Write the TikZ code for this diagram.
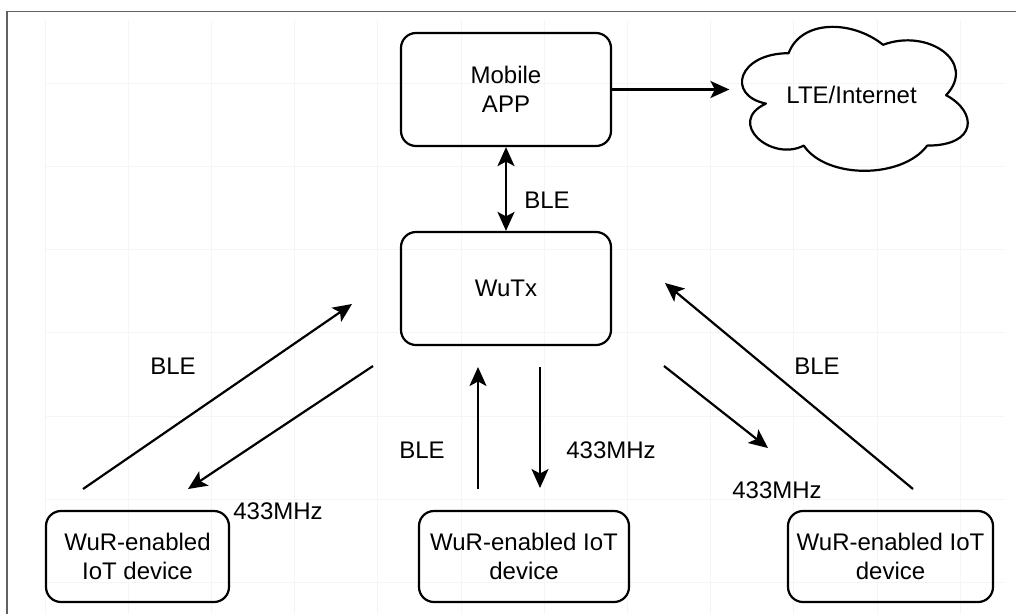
\documentclass[tikz,border=0pt]{standalone}
\usepackage{fontspec}
\setmainfont{Liberation Sans}
\usetikzlibrary{arrows.meta}
\begin{document}
\begin{tikzpicture}[x=1pt,y=-1pt,
  txt/.style={font=\fontsize{24}{29}\selectfont},
  box/.style={txt, draw, line width=2.2pt, rounded corners=15pt, inner sep=0pt, align=center},
  lbl/.style={txt, inner sep=0pt},
  tip/.tip={Stealth[length=19pt,width=17pt,inset=4.5pt]},
  link/.style={line width=2.2pt, -tip},
  dlink/.style={line width=2.2pt, tip-tip},
  gridline/.style={black!4, line width=0.8pt},
  frameline/.style={black!62, line width=1.4pt}
]
\useasboundingbox (0,0) rectangle (1016,614);
\fill[white] (0,0) rectangle (1016,614);

% background grid
\foreach \k in {0,...,11} {
  \draw[gridline] ({45+83.2*\k},20) -- ({45+83.2*\k},614);
}
\foreach \k in {1,...,7} {
  \draw[gridline] (45,{83.2*\k}) -- (1005,{83.2*\k});
}

% page frame
\draw[frameline] (1016,11.5) -- (7,11.5) -- (7,614);

% boxes
\node[box, minimum width=210pt, minimum height=113pt] (app) at (506,89.5) {Mobile\\APP};
\node[box, minimum width=210pt, minimum height=113pt] (wutx) at (506,288.5) {WuTx};
\node[box, minimum width=183pt, minimum height=91pt] (devl) at (137.5,556.5) {WuR-enabled\\IoT device};
\node[box, minimum width=210pt, minimum height=91pt] (devm) at (524,556.5) {WuR-enabled IoT\\device};
\node[box, minimum width=205pt, minimum height=91pt] (devr) at (890.5,556.5) {WuR-enabled IoT\\device};

% cloud
\node[txt, inner sep=0pt, minimum width=244pt, minimum height=168pt] (cloud) at (851.6,95.2) {LTE/Internet};
\begin{scope}[shift={(725.6,11.2)}, x=252pt, y=-168pt]
  \draw[line width=2.2pt, line join=round]
    (0.25,0.25) .. controls (0.05,0.25) and (0,0.5) .. (0.16,0.55)
    .. controls (0,0.66) and (0.18,0.9) .. (0.31,0.8)
    .. controls (0.4,1) and (0.7,1) .. (0.8,0.8)
    .. controls (1,0.8) and (1,0.6) .. (0.875,0.5)
    .. controls (1,0.3) and (0.8,0.1) .. (0.625,0.2)
    .. controls (0.5,0.05) and (0.3,0.05) .. (0.25,0.25) -- cycle;
\end{scope}

% connector end points
\coordinate (lbS) at (83,489);   \coordinate (lbE) at (352,304);
\coordinate (lrS) at (373,366);  \coordinate (lrE) at (188,489);
\coordinate (mbS) at (478,489);  \coordinate (mbE) at (478,367);
\coordinate (mrS) at (540,367);  \coordinate (mrE) at (540,488);
\coordinate (rrS) at (664,366);  \coordinate (rrE) at (768,448);
\coordinate (rbS) at (913,489);  \coordinate (rbE) at (665,283);

% connectors
\draw[link] (app.east) -- (app.east -| cloud.west);
\draw[dlink] (app.south) -- (wutx.north);
\draw[link] (lbS) -- (lbE);
\draw[link] (lrS) -- (lrE);
\draw[link] (mbS) -- (mbE);
\draw[link] (mrS) -- (mrE);
\draw[link] (rrS) -- (rrE);
\draw[link] (rbS) -- (rbE);

% labels
\node[lbl] (l1) at (547,200) {BLE};
\node[lbl] (l2) at (173,366) {BLE};
\node[lbl] (l3) at (278,511) {433MHz};
\node[lbl] (l4) at (422,450) {BLE};
\node[lbl] (l5) at (611,450) {433MHz};
\node[lbl] (l6) at (817,366) {BLE};
\node[lbl] (l7) at (777,490) {433MHz};
\end{tikzpicture}
\end{document}
